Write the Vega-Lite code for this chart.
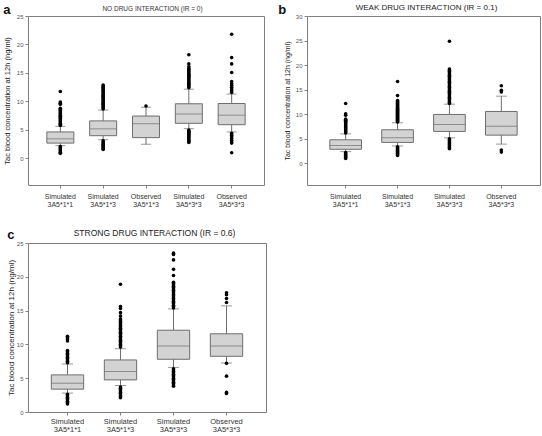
{
  "$schema": "https://vega.github.io/schema/vega-lite/v6.json",
  "padding": {"left": 2, "top": 2, "right": 2, "bottom": 0},
  "background": "white",
  "config": {
    "font": "Liberation Sans",
    "view": {"stroke": "#808080", "strokeWidth": 1},
    "axis": {"grid": false, "domain": false, "labelColor": "#555555", "tickColor": "#808080", "tickSize": 3, "titleColor": "#222222", "titleFontWeight": "normal", "labelFont": "Liberation Sans", "titleFont": "Liberation Sans", "labelOverlap": false},
    "axisY": {"tickCount": 7},
    "title": {"font": "Liberation Sans", "fontWeight": "bold", "color": "#111111"}
  },
  "datasets": {
    "boxA": [
      {"cat": "Simulated 3A5*1*1", "lower": 2.27, "q1": 2.7, "median": 3.45, "q3": 4.66, "upper": 5.64},
      {"cat": "Simulated 3A5*1*3", "lower": 3.3, "q1": 4.0, "median": 5.2, "q3": 6.6, "upper": 8.5},
      {"cat": "Observed 3A5*1*3", "lower": 2.5, "q1": 3.66, "median": 6.1, "q3": 7.45, "upper": 9.0},
      {"cat": "Simulated 3A5*3*3", "lower": 5.24, "q1": 6.17, "median": 7.8, "q3": 9.6, "upper": 12.16},
      {"cat": "Observed 3A5*3*3", "lower": 4.66, "q1": 5.93, "median": 7.6, "q3": 9.65, "upper": 11.3}
    ],
    "outA": [
      {"cat": "Simulated 3A5*1*1", "v": 5.8}, {"cat": "Simulated 3A5*1*1", "v": 6.0}, {"cat": "Simulated 3A5*1*1", "v": 6.2}, {"cat": "Simulated 3A5*1*1", "v": 6.4},
      {"cat": "Simulated 3A5*1*1", "v": 6.6}, {"cat": "Simulated 3A5*1*1", "v": 6.8}, {"cat": "Simulated 3A5*1*1", "v": 7.0}, {"cat": "Simulated 3A5*1*1", "v": 7.2},
      {"cat": "Simulated 3A5*1*1", "v": 7.4}, {"cat": "Simulated 3A5*1*1", "v": 7.6}, {"cat": "Simulated 3A5*1*1", "v": 7.8}, {"cat": "Simulated 3A5*1*1", "v": 8.0},
      {"cat": "Simulated 3A5*1*1", "v": 8.2}, {"cat": "Simulated 3A5*1*1", "v": 8.4}, {"cat": "Simulated 3A5*1*1", "v": 8.6}, {"cat": "Simulated 3A5*1*1", "v": 8.8},
      {"cat": "Simulated 3A5*1*1", "v": 9.5}, {"cat": "Simulated 3A5*1*1", "v": 9.7}, {"cat": "Simulated 3A5*1*1", "v": 9.9}, {"cat": "Simulated 3A5*1*1", "v": 11.75},
      {"cat": "Simulated 3A5*1*1", "v": 2.1}, {"cat": "Simulated 3A5*1*1", "v": 1.9}, {"cat": "Simulated 3A5*1*1", "v": 1.7}, {"cat": "Simulated 3A5*1*1", "v": 1.5},
      {"cat": "Simulated 3A5*1*1", "v": 1.3}, {"cat": "Simulated 3A5*1*1", "v": 1.1}, {"cat": "Simulated 3A5*1*1", "v": 0.9},
      {"cat": "Simulated 3A5*1*3", "v": 8.7}, {"cat": "Simulated 3A5*1*3", "v": 8.9}, {"cat": "Simulated 3A5*1*3", "v": 9.1}, {"cat": "Simulated 3A5*1*3", "v": 9.3},
      {"cat": "Simulated 3A5*1*3", "v": 9.5}, {"cat": "Simulated 3A5*1*3", "v": 9.7}, {"cat": "Simulated 3A5*1*3", "v": 9.9}, {"cat": "Simulated 3A5*1*3", "v": 10.1},
      {"cat": "Simulated 3A5*1*3", "v": 10.3}, {"cat": "Simulated 3A5*1*3", "v": 10.5}, {"cat": "Simulated 3A5*1*3", "v": 10.7}, {"cat": "Simulated 3A5*1*3", "v": 10.9},
      {"cat": "Simulated 3A5*1*3", "v": 11.1}, {"cat": "Simulated 3A5*1*3", "v": 11.3}, {"cat": "Simulated 3A5*1*3", "v": 11.5}, {"cat": "Simulated 3A5*1*3", "v": 11.7},
      {"cat": "Simulated 3A5*1*3", "v": 11.9}, {"cat": "Simulated 3A5*1*3", "v": 12.1}, {"cat": "Simulated 3A5*1*3", "v": 12.3}, {"cat": "Simulated 3A5*1*3", "v": 12.5},
      {"cat": "Simulated 3A5*1*3", "v": 12.7}, {"cat": "Simulated 3A5*1*3", "v": 12.9},
      {"cat": "Simulated 3A5*1*3", "v": 3.1}, {"cat": "Simulated 3A5*1*3", "v": 2.9}, {"cat": "Simulated 3A5*1*3", "v": 2.7}, {"cat": "Simulated 3A5*1*3", "v": 2.5},
      {"cat": "Simulated 3A5*1*3", "v": 2.3}, {"cat": "Simulated 3A5*1*3", "v": 2.1}, {"cat": "Simulated 3A5*1*3", "v": 1.9}, {"cat": "Simulated 3A5*1*3", "v": 1.7},
      {"cat": "Simulated 3A5*1*3", "v": 1.6},
      {"cat": "Observed 3A5*1*3", "v": 9.2},
      {"cat": "Simulated 3A5*3*3", "v": 12.4}, {"cat": "Simulated 3A5*3*3", "v": 12.6}, {"cat": "Simulated 3A5*3*3", "v": 12.8}, {"cat": "Simulated 3A5*3*3", "v": 13.0},
      {"cat": "Simulated 3A5*3*3", "v": 13.2}, {"cat": "Simulated 3A5*3*3", "v": 13.4}, {"cat": "Simulated 3A5*3*3", "v": 13.6}, {"cat": "Simulated 3A5*3*3", "v": 13.8},
      {"cat": "Simulated 3A5*3*3", "v": 14.0}, {"cat": "Simulated 3A5*3*3", "v": 14.2}, {"cat": "Simulated 3A5*3*3", "v": 14.4}, {"cat": "Simulated 3A5*3*3", "v": 14.6},
      {"cat": "Simulated 3A5*3*3", "v": 14.8}, {"cat": "Simulated 3A5*3*3", "v": 15.0}, {"cat": "Simulated 3A5*3*3", "v": 15.2}, {"cat": "Simulated 3A5*3*3", "v": 15.4},
      {"cat": "Simulated 3A5*3*3", "v": 15.6}, {"cat": "Simulated 3A5*3*3", "v": 15.8}, {"cat": "Simulated 3A5*3*3", "v": 16.1}, {"cat": "Simulated 3A5*3*3", "v": 16.6},
      {"cat": "Simulated 3A5*3*3", "v": 18.2},
      {"cat": "Simulated 3A5*3*3", "v": 5.0}, {"cat": "Simulated 3A5*3*3", "v": 4.8}, {"cat": "Simulated 3A5*3*3", "v": 4.6}, {"cat": "Simulated 3A5*3*3", "v": 4.4},
      {"cat": "Simulated 3A5*3*3", "v": 4.2}, {"cat": "Simulated 3A5*3*3", "v": 4.0}, {"cat": "Simulated 3A5*3*3", "v": 3.8}, {"cat": "Simulated 3A5*3*3", "v": 3.6},
      {"cat": "Simulated 3A5*3*3", "v": 3.4}, {"cat": "Simulated 3A5*3*3", "v": 3.2}, {"cat": "Simulated 3A5*3*3", "v": 3.0}, {"cat": "Simulated 3A5*3*3", "v": 2.8},
      {"cat": "Observed 3A5*3*3", "v": 11.6}, {"cat": "Observed 3A5*3*3", "v": 11.9}, {"cat": "Observed 3A5*3*3", "v": 12.2}, {"cat": "Observed 3A5*3*3", "v": 12.5},
      {"cat": "Observed 3A5*3*3", "v": 12.8}, {"cat": "Observed 3A5*3*3", "v": 13.1}, {"cat": "Observed 3A5*3*3", "v": 13.5}, {"cat": "Observed 3A5*3*3", "v": 15.1},
      {"cat": "Observed 3A5*3*3", "v": 16.6}, {"cat": "Observed 3A5*3*3", "v": 17.7}, {"cat": "Observed 3A5*3*3", "v": 21.8},
      {"cat": "Observed 3A5*3*3", "v": 4.4}, {"cat": "Observed 3A5*3*3", "v": 4.1}, {"cat": "Observed 3A5*3*3", "v": 3.8}, {"cat": "Observed 3A5*3*3", "v": 3.5},
      {"cat": "Observed 3A5*3*3", "v": 3.2}, {"cat": "Observed 3A5*3*3", "v": 2.9}, {"cat": "Observed 3A5*3*3", "v": 2.7}, {"cat": "Observed 3A5*3*3", "v": 1.0}
    ],
    "boxB": [
      {"cat": "Simulated 3A5*1*1", "lower": 2.4, "q1": 2.87, "median": 3.63, "q3": 4.8, "upper": 6.0},
      {"cat": "Simulated 3A5*1*3", "lower": 3.55, "q1": 4.27, "median": 5.2, "q3": 6.84, "upper": 8.27},
      {"cat": "Simulated 3A5*3*3", "lower": 5.2, "q1": 6.5, "median": 7.9, "q3": 9.96, "upper": 12.05},
      {"cat": "Observed 3A5*3*3", "lower": 3.92, "q1": 5.75, "median": 7.58, "q3": 10.57, "upper": 13.68}
    ],
    "outB": [
      {"cat": "Simulated 3A5*1*1", "v": 6.2}, {"cat": "Simulated 3A5*1*1", "v": 6.4}, {"cat": "Simulated 3A5*1*1", "v": 6.6}, {"cat": "Simulated 3A5*1*1", "v": 6.8},
      {"cat": "Simulated 3A5*1*1", "v": 7.0}, {"cat": "Simulated 3A5*1*1", "v": 7.2}, {"cat": "Simulated 3A5*1*1", "v": 7.4}, {"cat": "Simulated 3A5*1*1", "v": 7.6},
      {"cat": "Simulated 3A5*1*1", "v": 7.8}, {"cat": "Simulated 3A5*1*1", "v": 8.0}, {"cat": "Simulated 3A5*1*1", "v": 8.2}, {"cat": "Simulated 3A5*1*1", "v": 8.4},
      {"cat": "Simulated 3A5*1*1", "v": 8.6}, {"cat": "Simulated 3A5*1*1", "v": 8.8}, {"cat": "Simulated 3A5*1*1", "v": 9.0}, {"cat": "Simulated 3A5*1*1", "v": 9.8},
      {"cat": "Simulated 3A5*1*1", "v": 10.1}, {"cat": "Simulated 3A5*1*1", "v": 12.2},
      {"cat": "Simulated 3A5*1*1", "v": 2.2}, {"cat": "Simulated 3A5*1*1", "v": 2.0}, {"cat": "Simulated 3A5*1*1", "v": 1.8}, {"cat": "Simulated 3A5*1*1", "v": 1.6},
      {"cat": "Simulated 3A5*1*1", "v": 1.4}, {"cat": "Simulated 3A5*1*1", "v": 1.2}, {"cat": "Simulated 3A5*1*1", "v": 1.0},
      {"cat": "Simulated 3A5*1*3", "v": 8.4}, {"cat": "Simulated 3A5*1*3", "v": 8.6}, {"cat": "Simulated 3A5*1*3", "v": 8.8}, {"cat": "Simulated 3A5*1*3", "v": 9.0},
      {"cat": "Simulated 3A5*1*3", "v": 9.2}, {"cat": "Simulated 3A5*1*3", "v": 9.4}, {"cat": "Simulated 3A5*1*3", "v": 9.6}, {"cat": "Simulated 3A5*1*3", "v": 9.8},
      {"cat": "Simulated 3A5*1*3", "v": 10.0}, {"cat": "Simulated 3A5*1*3", "v": 10.2}, {"cat": "Simulated 3A5*1*3", "v": 10.4}, {"cat": "Simulated 3A5*1*3", "v": 10.6},
      {"cat": "Simulated 3A5*1*3", "v": 10.8}, {"cat": "Simulated 3A5*1*3", "v": 11.0}, {"cat": "Simulated 3A5*1*3", "v": 11.2}, {"cat": "Simulated 3A5*1*3", "v": 11.4},
      {"cat": "Simulated 3A5*1*3", "v": 11.6}, {"cat": "Simulated 3A5*1*3", "v": 11.8}, {"cat": "Simulated 3A5*1*3", "v": 12.0}, {"cat": "Simulated 3A5*1*3", "v": 12.2},
      {"cat": "Simulated 3A5*1*3", "v": 12.4}, {"cat": "Simulated 3A5*1*3", "v": 12.6}, {"cat": "Simulated 3A5*1*3", "v": 12.8}, {"cat": "Simulated 3A5*1*3", "v": 13.8},
      {"cat": "Simulated 3A5*1*3", "v": 16.66},
      {"cat": "Simulated 3A5*1*3", "v": 3.4}, {"cat": "Simulated 3A5*1*3", "v": 3.2}, {"cat": "Simulated 3A5*1*3", "v": 3.0}, {"cat": "Simulated 3A5*1*3", "v": 2.8},
      {"cat": "Simulated 3A5*1*3", "v": 2.6}, {"cat": "Simulated 3A5*1*3", "v": 2.4}, {"cat": "Simulated 3A5*1*3", "v": 2.2}, {"cat": "Simulated 3A5*1*3", "v": 2.0},
      {"cat": "Simulated 3A5*1*3", "v": 1.8}, {"cat": "Simulated 3A5*1*3", "v": 1.6},
      {"cat": "Simulated 3A5*3*3", "v": 12.2}, {"cat": "Simulated 3A5*3*3", "v": 12.45}, {"cat": "Simulated 3A5*3*3", "v": 12.7}, {"cat": "Simulated 3A5*3*3", "v": 12.95},
      {"cat": "Simulated 3A5*3*3", "v": 13.2}, {"cat": "Simulated 3A5*3*3", "v": 13.45}, {"cat": "Simulated 3A5*3*3", "v": 13.7}, {"cat": "Simulated 3A5*3*3", "v": 13.95},
      {"cat": "Simulated 3A5*3*3", "v": 14.2}, {"cat": "Simulated 3A5*3*3", "v": 14.45}, {"cat": "Simulated 3A5*3*3", "v": 14.7}, {"cat": "Simulated 3A5*3*3", "v": 14.95},
      {"cat": "Simulated 3A5*3*3", "v": 15.2}, {"cat": "Simulated 3A5*3*3", "v": 15.45}, {"cat": "Simulated 3A5*3*3", "v": 15.7}, {"cat": "Simulated 3A5*3*3", "v": 15.95},
      {"cat": "Simulated 3A5*3*3", "v": 16.2}, {"cat": "Simulated 3A5*3*3", "v": 16.45}, {"cat": "Simulated 3A5*3*3", "v": 16.7}, {"cat": "Simulated 3A5*3*3", "v": 16.95},
      {"cat": "Simulated 3A5*3*3", "v": 17.2}, {"cat": "Simulated 3A5*3*3", "v": 17.45}, {"cat": "Simulated 3A5*3*3", "v": 17.7}, {"cat": "Simulated 3A5*3*3", "v": 17.95},
      {"cat": "Simulated 3A5*3*3", "v": 18.2}, {"cat": "Simulated 3A5*3*3", "v": 18.45}, {"cat": "Simulated 3A5*3*3", "v": 18.7}, {"cat": "Simulated 3A5*3*3", "v": 18.95},
      {"cat": "Simulated 3A5*3*3", "v": 19.2}, {"cat": "Simulated 3A5*3*3", "v": 24.85},
      {"cat": "Simulated 3A5*3*3", "v": 5.0}, {"cat": "Simulated 3A5*3*3", "v": 4.8}, {"cat": "Simulated 3A5*3*3", "v": 4.6}, {"cat": "Simulated 3A5*3*3", "v": 4.4},
      {"cat": "Simulated 3A5*3*3", "v": 4.2}, {"cat": "Simulated 3A5*3*3", "v": 4.0}, {"cat": "Simulated 3A5*3*3", "v": 3.8}, {"cat": "Simulated 3A5*3*3", "v": 3.6},
      {"cat": "Simulated 3A5*3*3", "v": 3.4}, {"cat": "Simulated 3A5*3*3", "v": 3.2}, {"cat": "Simulated 3A5*3*3", "v": 3.0},
      {"cat": "Observed 3A5*3*3", "v": 14.55}, {"cat": "Observed 3A5*3*3", "v": 14.9}, {"cat": "Observed 3A5*3*3", "v": 15.8},
      {"cat": "Observed 3A5*3*3", "v": 2.7}, {"cat": "Observed 3A5*3*3", "v": 2.3}
    ],
    "boxC": [
      {"cat": "Simulated 3A5*1*1", "lower": 2.8, "q1": 3.38, "median": 4.26, "q3": 5.49, "upper": 7.1},
      {"cat": "Simulated 3A5*1*3", "lower": 3.92, "q1": 4.75, "median": 6.0, "q3": 7.7, "upper": 9.36},
      {"cat": "Simulated 3A5*3*3", "lower": 6.6, "q1": 7.8, "median": 9.75, "q3": 12.1, "upper": 15.25},
      {"cat": "Observed 3A5*3*3", "lower": 7.25, "q1": 8.24, "median": 9.75, "q3": 11.57, "upper": 15.7}
    ],
    "outC": [
      {"cat": "Simulated 3A5*1*1", "v": 7.3}, {"cat": "Simulated 3A5*1*1", "v": 7.5}, {"cat": "Simulated 3A5*1*1", "v": 7.7}, {"cat": "Simulated 3A5*1*1", "v": 7.9},
      {"cat": "Simulated 3A5*1*1", "v": 8.1}, {"cat": "Simulated 3A5*1*1", "v": 8.3}, {"cat": "Simulated 3A5*1*1", "v": 8.5}, {"cat": "Simulated 3A5*1*1", "v": 8.7},
      {"cat": "Simulated 3A5*1*1", "v": 8.9}, {"cat": "Simulated 3A5*1*1", "v": 9.1}, {"cat": "Simulated 3A5*1*1", "v": 10.5}, {"cat": "Simulated 3A5*1*1", "v": 10.8},
      {"cat": "Simulated 3A5*1*1", "v": 11.0}, {"cat": "Simulated 3A5*1*1", "v": 11.2},
      {"cat": "Simulated 3A5*1*1", "v": 2.6}, {"cat": "Simulated 3A5*1*1", "v": 2.4}, {"cat": "Simulated 3A5*1*1", "v": 2.2}, {"cat": "Simulated 3A5*1*1", "v": 2.0},
      {"cat": "Simulated 3A5*1*1", "v": 1.8}, {"cat": "Simulated 3A5*1*1", "v": 1.6}, {"cat": "Simulated 3A5*1*1", "v": 1.4}, {"cat": "Simulated 3A5*1*1", "v": 1.2},
      {"cat": "Simulated 3A5*1*3", "v": 9.6}, {"cat": "Simulated 3A5*1*3", "v": 9.8}, {"cat": "Simulated 3A5*1*3", "v": 10.0}, {"cat": "Simulated 3A5*1*3", "v": 10.2},
      {"cat": "Simulated 3A5*1*3", "v": 10.4}, {"cat": "Simulated 3A5*1*3", "v": 10.6}, {"cat": "Simulated 3A5*1*3", "v": 10.8}, {"cat": "Simulated 3A5*1*3", "v": 11.0},
      {"cat": "Simulated 3A5*1*3", "v": 11.2}, {"cat": "Simulated 3A5*1*3", "v": 11.4}, {"cat": "Simulated 3A5*1*3", "v": 11.6}, {"cat": "Simulated 3A5*1*3", "v": 11.8},
      {"cat": "Simulated 3A5*1*3", "v": 12.0}, {"cat": "Simulated 3A5*1*3", "v": 12.2}, {"cat": "Simulated 3A5*1*3", "v": 12.4}, {"cat": "Simulated 3A5*1*3", "v": 12.6},
      {"cat": "Simulated 3A5*1*3", "v": 12.8}, {"cat": "Simulated 3A5*1*3", "v": 13.0}, {"cat": "Simulated 3A5*1*3", "v": 13.2}, {"cat": "Simulated 3A5*1*3", "v": 13.4},
      {"cat": "Simulated 3A5*1*3", "v": 13.6}, {"cat": "Simulated 3A5*1*3", "v": 13.8}, {"cat": "Simulated 3A5*1*3", "v": 14.2}, {"cat": "Simulated 3A5*1*3", "v": 14.7},
      {"cat": "Simulated 3A5*1*3", "v": 15.3}, {"cat": "Simulated 3A5*1*3", "v": 15.6}, {"cat": "Simulated 3A5*1*3", "v": 18.9},
      {"cat": "Simulated 3A5*1*3", "v": 3.7}, {"cat": "Simulated 3A5*1*3", "v": 3.5}, {"cat": "Simulated 3A5*1*3", "v": 3.3}, {"cat": "Simulated 3A5*1*3", "v": 3.1},
      {"cat": "Simulated 3A5*1*3", "v": 2.9}, {"cat": "Simulated 3A5*1*3", "v": 2.7}, {"cat": "Simulated 3A5*1*3", "v": 2.5}, {"cat": "Simulated 3A5*1*3", "v": 2.3},
      {"cat": "Simulated 3A5*1*3", "v": 2.1},
      {"cat": "Simulated 3A5*3*3", "v": 15.4}, {"cat": "Simulated 3A5*3*3", "v": 15.6}, {"cat": "Simulated 3A5*3*3", "v": 15.8}, {"cat": "Simulated 3A5*3*3", "v": 16.0},
      {"cat": "Simulated 3A5*3*3", "v": 16.2}, {"cat": "Simulated 3A5*3*3", "v": 16.4}, {"cat": "Simulated 3A5*3*3", "v": 16.6}, {"cat": "Simulated 3A5*3*3", "v": 16.8},
      {"cat": "Simulated 3A5*3*3", "v": 17.0}, {"cat": "Simulated 3A5*3*3", "v": 17.2}, {"cat": "Simulated 3A5*3*3", "v": 17.4}, {"cat": "Simulated 3A5*3*3", "v": 17.6},
      {"cat": "Simulated 3A5*3*3", "v": 17.8}, {"cat": "Simulated 3A5*3*3", "v": 18.0}, {"cat": "Simulated 3A5*3*3", "v": 18.2}, {"cat": "Simulated 3A5*3*3", "v": 18.4},
      {"cat": "Simulated 3A5*3*3", "v": 18.6}, {"cat": "Simulated 3A5*3*3", "v": 18.8}, {"cat": "Simulated 3A5*3*3", "v": 19.0}, {"cat": "Simulated 3A5*3*3", "v": 19.2},
      {"cat": "Simulated 3A5*3*3", "v": 20.2}, {"cat": "Simulated 3A5*3*3", "v": 21.1}, {"cat": "Simulated 3A5*3*3", "v": 22.5}, {"cat": "Simulated 3A5*3*3", "v": 23.3},
      {"cat": "Simulated 3A5*3*3", "v": 23.5},
      {"cat": "Simulated 3A5*3*3", "v": 6.4}, {"cat": "Simulated 3A5*3*3", "v": 6.2}, {"cat": "Simulated 3A5*3*3", "v": 6.0}, {"cat": "Simulated 3A5*3*3", "v": 5.8},
      {"cat": "Simulated 3A5*3*3", "v": 5.6}, {"cat": "Simulated 3A5*3*3", "v": 5.4}, {"cat": "Simulated 3A5*3*3", "v": 5.2}, {"cat": "Simulated 3A5*3*3", "v": 5.0},
      {"cat": "Simulated 3A5*3*3", "v": 4.8}, {"cat": "Simulated 3A5*3*3", "v": 4.6}, {"cat": "Simulated 3A5*3*3", "v": 4.4}, {"cat": "Simulated 3A5*3*3", "v": 4.2},
      {"cat": "Simulated 3A5*3*3", "v": 4.0}, {"cat": "Simulated 3A5*3*3", "v": 3.8},
      {"cat": "Observed 3A5*3*3", "v": 16.2}, {"cat": "Observed 3A5*3*3", "v": 16.8}, {"cat": "Observed 3A5*3*3", "v": 17.35}, {"cat": "Observed 3A5*3*3", "v": 17.65},
      {"cat": "Observed 3A5*3*3", "v": 7.2}, {"cat": "Observed 3A5*3*3", "v": 5.3}, {"cat": "Observed 3A5*3*3", "v": 2.9}, {"cat": "Observed 3A5*3*3", "v": 2.75}
    ]
  },
  "spacing": 19,
  "vconcat": [
    {
      "spacing": 12,
      "hconcat": [
        {
          "width": 236,
          "height": 169,
          "title": {"text": "a", "anchor": "start", "offset": -12, "fontSize": 13},
          "resolve": {"axis": {"x": "independent"}},
          "layer": [
            {
              "data": {"name": "boxA"},
              "mark": {"type": "bar", "fill": "#d3d3d3", "stroke": "#6e6e6e", "strokeWidth": 1},
              "encoding": {
                "x": {"field": "cat", "type": "nominal", "scale": {"domain": ["Simulated 3A5*1*1", "Simulated 3A5*1*3", "Observed 3A5*1*3", "Simulated 3A5*3*3", "Observed 3A5*3*3"], "paddingInner": 0.37, "paddingOuter": 0.44},
                  "axis": {"orient": "bottom", "title": null, "labelAngle": 0, "labelFontSize": 7, "labelColor": "#333333", "labelExpr": "split(datum.label, ' ')", "labelLineHeight": 8.5, "labelPadding": 4}},
                "y": {"field": "q1", "type": "quantitative", "scale": {"domain": [-4.65, 25], "nice": false, "zero": false},
                  "axis": {"values": [0, 5, 10, 15, 20, 25], "labelFontSize": 6, "title": "Tac blood concentration at 12h (ng/ml)", "titleFontSize": 7.5, "titlePadding": 5}},
                "y2": {"field": "q3"}
              }
            },
            {
              "data": {"name": "boxA"},
              "mark": {"type": "rule", "color": "#6e6e6e"},
              "encoding": {"x": {"field": "cat", "type": "nominal", "axis": null}, "y": {"field": "upper", "type": "quantitative"}, "y2": {"field": "q3"}}
            },
            {
              "data": {"name": "boxA"},
              "mark": {"type": "rule", "color": "#6e6e6e"},
              "encoding": {"x": {"field": "cat", "type": "nominal", "axis": null}, "y": {"field": "lower", "type": "quantitative"}, "y2": {"field": "q1"}}
            },
            {
              "data": {"name": "boxA"},
              "mark": {"type": "tick", "size": 10, "thickness": 1, "color": "#6e6e6e"},
              "encoding": {"x": {"field": "cat", "type": "nominal", "axis": null}, "y": {"field": "upper", "type": "quantitative"}}
            },
            {
              "data": {"name": "boxA"},
              "mark": {"type": "tick", "size": 10, "thickness": 1, "color": "#6e6e6e"},
              "encoding": {"x": {"field": "cat", "type": "nominal", "axis": null}, "y": {"field": "lower", "type": "quantitative"}}
            },
            {
              "data": {"name": "boxA"},
              "mark": {"type": "tick", "size": 27, "thickness": 1, "color": "#6e6e6e"},
              "encoding": {"x": {"field": "cat", "type": "nominal", "axis": {"orient": "top", "labels": false, "ticks": false, "domain": false, "title": "NO DRUG INTERACTION (IR = 0)", "titleFontSize": 6.5, "titlePadding": 5, "titleX": 124, "titleColor": "#333333"}}, "y": {"field": "median", "type": "quantitative"}}
            },
            {
              "data": {"name": "outA"},
              "mark": {"type": "circle", "size": 13, "color": "#000000", "opacity": 1},
              "encoding": {"x": {"field": "cat", "type": "nominal", "axis": null}, "y": {"field": "v", "type": "quantitative"}}
            }
          ]
        },
        {
          "width": 233,
          "height": 169,
          "title": {"text": "b", "anchor": "start", "dx": -5, "offset": -14, "fontSize": 13},
          "resolve": {"axis": {"x": "independent"}},
          "layer": [
            {
              "data": {"name": "boxB"},
              "mark": {"type": "bar", "fill": "#d3d3d3", "stroke": "#6e6e6e", "strokeWidth": 1},
              "encoding": {
                "x": {"field": "cat", "type": "nominal", "scale": {"domain": ["Simulated 3A5*1*1", "Simulated 3A5*1*3", "Simulated 3A5*3*3", "Observed 3A5*3*3"], "paddingInner": 0.39, "paddingOuter": 0.44},
                  "axis": {"orient": "bottom", "title": null, "labelAngle": 0, "labelFontSize": 7, "labelColor": "#333333", "labelExpr": "split(datum.label, ' ')", "labelLineHeight": 8.5, "labelPadding": 4}},
                "y": {"field": "q1", "type": "quantitative", "scale": {"domain": [-4.4, 30], "nice": false, "zero": false},
                  "axis": {"values": [0, 5, 10, 15, 20, 25, 30], "labelFontSize": 6, "title": "Tac blood concentration at 12h (ng/ml)", "titleFontSize": 7, "titlePadding": 5}},
                "y2": {"field": "q3"}
              }
            },
            {
              "data": {"name": "boxB"},
              "mark": {"type": "rule", "color": "#6e6e6e"},
              "encoding": {"x": {"field": "cat", "type": "nominal", "axis": null}, "y": {"field": "upper", "type": "quantitative"}, "y2": {"field": "q3"}}
            },
            {
              "data": {"name": "boxB"},
              "mark": {"type": "rule", "color": "#6e6e6e"},
              "encoding": {"x": {"field": "cat", "type": "nominal", "axis": null}, "y": {"field": "lower", "type": "quantitative"}, "y2": {"field": "q1"}}
            },
            {
              "data": {"name": "boxB"},
              "mark": {"type": "tick", "size": 11, "thickness": 1, "color": "#6e6e6e"},
              "encoding": {"x": {"field": "cat", "type": "nominal", "axis": null}, "y": {"field": "upper", "type": "quantitative"}}
            },
            {
              "data": {"name": "boxB"},
              "mark": {"type": "tick", "size": 11, "thickness": 1, "color": "#6e6e6e"},
              "encoding": {"x": {"field": "cat", "type": "nominal", "axis": null}, "y": {"field": "lower", "type": "quantitative"}}
            },
            {
              "data": {"name": "boxB"},
              "mark": {"type": "tick", "size": 32, "thickness": 1, "color": "#6e6e6e"},
              "encoding": {"x": {"field": "cat", "type": "nominal", "axis": {"orient": "top", "labels": false, "ticks": false, "domain": false, "title": "WEAK DRUG INTERACTION (IR = 0.1)", "titleFontSize": 8, "titlePadding": 5, "titleX": 119, "titleColor": "#222222"}}, "y": {"field": "median", "type": "quantitative"}}
            },
            {
              "data": {"name": "outB"},
              "mark": {"type": "circle", "size": 13, "color": "#000000", "opacity": 1},
              "encoding": {"x": {"field": "cat", "type": "nominal", "axis": null}, "y": {"field": "v", "type": "quantitative"}}
            }
          ]
        }
      ]
    },
    {
      "width": 238,
      "height": 169,
      "title": {"text": "c", "anchor": "start", "offset": -14, "fontSize": 13},
      "resolve": {"axis": {"x": "independent"}},
      "layer": [
        {
          "data": {"name": "boxC"},
          "mark": {"type": "bar", "fill": "#d3d3d3", "stroke": "#6e6e6e", "strokeWidth": 1},
          "encoding": {
            "x": {"field": "cat", "type": "nominal", "scale": {"domain": ["Simulated 3A5*1*1", "Simulated 3A5*1*3", "Simulated 3A5*3*3", "Observed 3A5*3*3"], "paddingInner": 0.39, "paddingOuter": 0.44},
              "axis": {"orient": "bottom", "title": null, "labelAngle": 0, "labelFontSize": 7.5, "labelColor": "#333333", "labelExpr": "split(datum.label, ' ')", "labelLineHeight": 8.5, "labelPadding": 2}},
            "y": {"field": "q1", "type": "quantitative", "scale": {"domain": [0, 25], "nice": false, "zero": false},
              "axis": {"values": [0, 5, 10, 15, 20, 25], "labelFontSize": 6, "title": "Tac blood concentration at 12h (ng/ml)", "titleFontSize": 8, "titlePadding": 1}},
            "y2": {"field": "q3"}
          }
        },
        {
          "data": {"name": "boxC"},
          "mark": {"type": "rule", "color": "#6e6e6e"},
          "encoding": {"x": {"field": "cat", "type": "nominal", "axis": null}, "y": {"field": "upper", "type": "quantitative"}, "y2": {"field": "q3"}}
        },
        {
          "data": {"name": "boxC"},
          "mark": {"type": "rule", "color": "#6e6e6e"},
          "encoding": {"x": {"field": "cat", "type": "nominal", "axis": null}, "y": {"field": "lower", "type": "quantitative"}, "y2": {"field": "q1"}}
        },
        {
          "data": {"name": "boxC"},
          "mark": {"type": "tick", "size": 11, "thickness": 1, "color": "#6e6e6e"},
          "encoding": {"x": {"field": "cat", "type": "nominal", "axis": null}, "y": {"field": "upper", "type": "quantitative"}}
        },
        {
          "data": {"name": "boxC"},
          "mark": {"type": "tick", "size": 11, "thickness": 1, "color": "#6e6e6e"},
          "encoding": {"x": {"field": "cat", "type": "nominal", "axis": null}, "y": {"field": "lower", "type": "quantitative"}}
        },
        {
          "data": {"name": "boxC"},
          "mark": {"type": "tick", "size": 32, "thickness": 1, "color": "#6e6e6e"},
          "encoding": {"x": {"field": "cat", "type": "nominal", "axis": {"orient": "top", "labels": false, "ticks": false, "domain": false, "title": "STRONG DRUG INTERACTION (IR = 0.6)", "titleFontSize": 8.5, "titlePadding": 6, "titleX": 126, "titleColor": "#222222"}}, "y": {"field": "median", "type": "quantitative"}}
        },
        {
          "data": {"name": "outC"},
          "mark": {"type": "circle", "size": 13, "color": "#000000", "opacity": 1},
          "encoding": {"x": {"field": "cat", "type": "nominal", "axis": null}, "y": {"field": "v", "type": "quantitative"}}
        }
      ]
    }
  ]
}
